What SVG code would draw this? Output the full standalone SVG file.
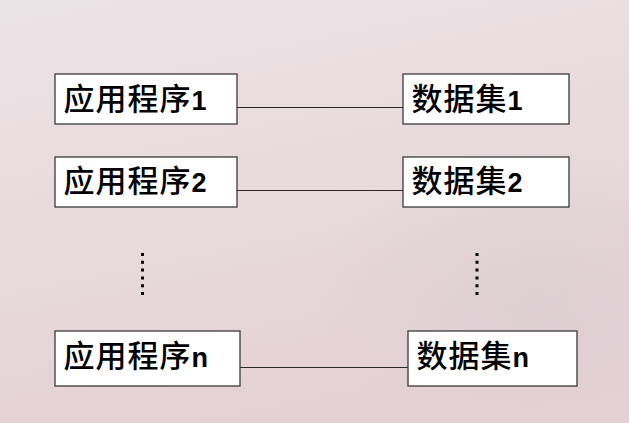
<svg xmlns="http://www.w3.org/2000/svg" width="629" height="423" viewBox="0 0 629 423">
  <defs>
    <linearGradient id="bg" x1="0" y1="0" x2="0.3" y2="1">
      <stop offset="0" stop-color="#ece3e6"/>
      <stop offset="0.55" stop-color="#e8dadd"/>
      <stop offset="1" stop-color="#e4d1d6"/>
    </linearGradient>
    <radialGradient id="shade" cx="0.85" cy="0.7" r="0.35">
      <stop offset="0" stop-color="#d9ccd0" stop-opacity="0.6"/>
      <stop offset="1" stop-color="#d9ccd0" stop-opacity="0"/>
    </radialGradient>
    <style>
      .box { fill: #ffffff; stroke: #3a3a3a; stroke-width: 1.3; }
      .lbl { font-family: "Noto Sans CJK SC", "Liberation Sans", sans-serif; font-size: 31px; font-weight: 500; letter-spacing: 1px; fill: #000; }
      .num { font-family: "Liberation Sans", Arial, sans-serif; font-size: 27px; font-weight: bold; letter-spacing: 0; }
      .conn { stroke: #2a2a2a; stroke-width: 1.2; fill: none; }
      .dots { stroke: #000; stroke-width: 3; stroke-dasharray: 3 4.8; fill: none; }
    </style>
  </defs>

  <rect x="0" y="0" width="629" height="423" fill="url(#bg)"/>
  <rect x="0" y="0" width="629" height="423" fill="url(#shade)"/>

  <g id="connectors">
    <line class="conn" x1="237" y1="107.5" x2="403" y2="107.5"/>
    <line class="conn" x1="237" y1="190.5" x2="403" y2="190.5"/>
    <line class="conn" x1="240" y1="367.5" x2="408" y2="367.5"/>
    <line class="dots" x1="142.5" y1="253" x2="142.5" y2="297"/>
    <line class="dots" x1="477" y1="253" x2="477" y2="297"/>
  </g>

  <g id="app1">
    <rect class="box" x="55" y="74" width="182" height="50"/>
    <text class="lbl" x="63.5" y="109.5">应用程序<tspan class="num">1</tspan></text>
  </g>
  <g id="app2">
    <rect class="box" x="55" y="157" width="182" height="50"/>
    <text class="lbl" x="63.5" y="192">应用程序<tspan class="num">2</tspan></text>
  </g>
  <g id="appn">
    <rect class="box" x="55" y="331" width="185" height="55"/>
    <text class="lbl" x="63.5" y="366.7">应用程序<tspan class="num">n</tspan></text>
  </g>
  <g id="ds1">
    <rect class="box" x="403" y="74" width="166" height="50"/>
    <text class="lbl" x="411.5" y="109.5">数据集<tspan class="num">1</tspan></text>
  </g>
  <g id="ds2">
    <rect class="box" x="403" y="157" width="166" height="50"/>
    <text class="lbl" x="411.5" y="192">数据集<tspan class="num">2</tspan></text>
  </g>
  <g id="dsn">
    <rect class="box" x="408" y="331" width="169" height="55"/>
    <text class="lbl" x="416.5" y="366.7">数据集<tspan class="num">n</tspan></text>
  </g>
</svg>
